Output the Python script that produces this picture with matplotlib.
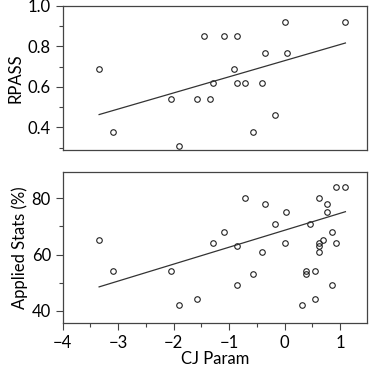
import numpy as np
import matplotlib
matplotlib.use("Agg")
import matplotlib.pyplot as plt
from matplotlib.ticker import MultipleLocator

# Data
cj_rpass = [-3.344, -3.097, -2.051, -1.912, -1.581, -1.461, -1.347, -1.298, -1.100, -0.919,
            -0.865, -0.859, -0.709, -0.570, -0.408, -0.348, -0.179, 0.007, 0.037, 1.096]
rpass = [0.69, 0.38, 0.54, 0.31, 0.54, 0.85, 0.54, 0.62, 0.85, 0.69,
         0.85, 0.62, 0.62, 0.38, 0.62, 0.77, 0.46, 0.92, 0.77, 0.92]

cj_stats = [-3.344, -3.097, -2.051, -1.912, -1.581, -1.298, -1.100, -0.865, -0.859, -0.709,
            -0.570, -0.408, -0.348, -0.179, 0.001, 0.031, 0.314, 0.380, 0.380, 0.464,
            0.542, 0.542, 0.626, 0.626, 0.626, 0.626, 0.693, 0.771, 0.771, 0.856,
            0.856, 0.921, 0.921, 1.096]
stats = [65, 54, 54, 42, 44, 64, 68, 49, 63, 80,
         53, 61, 78, 71, 64, 75, 42, 54, 53, 71,
         54, 44, 80, 64, 63, 61, 65, 78, 75, 68,
         49, 84, 64, 84]

# Fitted line coefficients (intercept, slope) as drawn in the reference
fit_rpass = (0.730, 0.0796)
fit_stats = (68.64, 6.03)

xlabel = "CJ Param"
ylabel_top = "RPASS"
ylabel_bot = "Applied Stats (%)"

plt.rcParams['font.family'] = ['Lato', 'DejaVu Sans']
plt.rcParams['font.size'] = 12

fig = plt.figure(figsize=(3.69, 3.74), dpi=100)
ax1 = fig.add_axes([0.170, 0.599, 0.8238, 0.385])
ax2 = fig.add_axes([0.170, 0.137, 0.8238, 0.404])

edge = '#444444'
for ax, xs, ys, fit in [(ax1, cj_rpass, rpass, fit_rpass), (ax2, cj_stats, stats, fit_stats)]:
    xs = np.asarray(xs); ys = np.asarray(ys)
    ax.plot(xs, ys, 'o', mfc='none', mec='#222222', ms=4.0, mew=0.8)
    a, b = fit
    xx = np.array([xs.min(), xs.max()])
    ax.plot(xx, a + b * xx, '-', color='#333333', lw=0.9)
    ax.set_xlim(-4, 1.48)
    for s in ax.spines.values():
        s.set_color(edge)
        s.set_linewidth(0.9)
    ax.tick_params(which='both', direction='out', color=edge, width=0.8)
    ax.tick_params(which='major', length=5)
    ax.tick_params(which='minor', length=3)
    ax.tick_params(right=False, top=False)

ax1.set_ylim(0.289, 1.0)
ax1.set_yticks([0.4, 0.6, 0.8, 1.0])
ax1.yaxis.set_minor_locator(MultipleLocator(0.1))
ax1.tick_params(axis='x', which='both', bottom=False, labelbottom=False)
ax1.set_ylabel(ylabel_top, labelpad=3)

ax2.set_ylim(35.7, 89.5)
ax2.set_yticks([40, 60, 80])
ax2.yaxis.set_minor_locator(MultipleLocator(10))
ax2.set_xticks([-4, -3, -2, -1, 0, 1])
ax2.xaxis.set_minor_locator(MultipleLocator(0.5))
ax2.set_ylabel(ylabel_bot, labelpad=3)
ax2.set_xlabel(xlabel, labelpad=0)

fig.align_ylabels([ax1, ax2])
fig.savefig("out.png", dpi=100)
